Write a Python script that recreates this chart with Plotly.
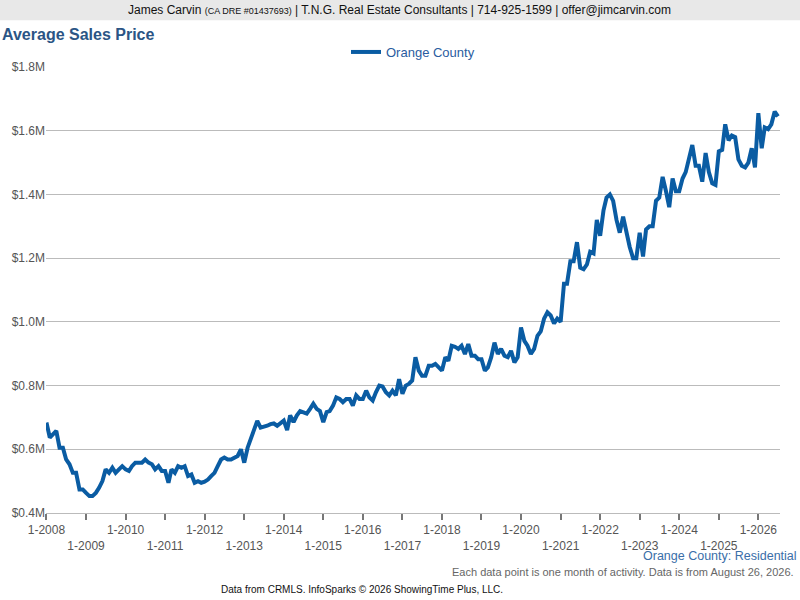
import plotly.graph_objects as go
import pandas as pd

values = [
 # 2008
 0.684,0.637,0.647,0.658,0.605,0.605,0.568,0.553,0.526,0.526,0.474,0.474,
 # 2009
 0.463,0.453,0.453,0.463,0.479,0.50,0.537,0.526,0.542,0.526,0.537,0.547,
 # 2010
 0.537,0.532,0.547,0.558,0.558,0.558,0.568,0.558,0.553,0.537,0.547,0.532,
 # 2011
 0.532,0.495,0.537,0.526,0.547,0.542,0.547,0.516,0.521,0.495,0.50,0.495,
 # 2012
 0.498,0.505,0.516,0.526,0.547,0.568,0.574,0.568,0.568,0.574,0.579,0.60,
 # 2013
 0.558,0.605,0.632,0.663,0.689,0.668,0.67,0.674,0.679,0.681,0.674,0.684,
 # 2014
 0.69,0.66,0.706,0.685,0.706,0.72,0.717,0.712,0.727,0.743,0.727,0.72,
 # 2015
 0.685,0.717,0.72,0.737,0.763,0.758,0.748,0.758,0.758,0.737,0.769,0.758,
 # 2016
 0.758,0.784,0.763,0.753,0.779,0.80,0.797,0.779,0.769,0.784,0.769,0.82,
 # 2017
 0.774,0.80,0.805,0.816,0.889,0.847,0.831,0.831,0.862,0.862,0.868,0.857,
 # 2018
 0.847,0.889,0.878,0.925,0.922,0.915,0.925,0.899,0.93,0.894,0.894,0.883,
 # 2019
 0.883,0.847,0.857,0.889,0.935,0.899,0.915,0.894,0.889,0.909,0.873,0.889,
 # 2020
 0.982,0.94,0.925,0.899,0.915,0.956,0.97,1.01,1.03,1.02,0.995,1.01,
 # 2021
 1.00,1.12,1.12,1.19,1.19,1.25,1.17,1.165,1.18,1.22,1.215,1.32,
 # 2022
 1.27,1.35,1.39,1.40,1.38,1.32,1.28,1.33,1.28,1.235,1.20,1.20,
 # 2023
 1.28,1.205,1.29,1.30,1.30,1.38,1.39,1.455,1.41,1.36,1.45,1.41,
 # 2024
 1.41,1.45,1.47,1.52,1.555,1.49,1.49,1.44,1.53,1.47,1.435,1.43,
 # 2025
 1.535,1.54,1.62,1.57,1.585,1.58,1.51,1.49,1.485,1.50,1.545,1.485,
 # 2026
 1.655,1.545,1.61,1.605,1.62,1.66,1.645,
]
dates = pd.date_range("2008-01-01", periods=len(values), freq="MS")
series_name = "Orange County"
years = list(range(2008, 2027))
tick_vals = [f"{y}-01-01" for y in years]
tick_text = [f"1-{y}" if (y - 2008) % 2 == 0 else f"<br>1-{y}" for y in years]
y_ticks = [0.4, 0.6, 0.8, 1.0, 1.2, 1.4, 1.6, 1.8]
y_text = [f"${v:.1f}M" for v in y_ticks]

fig = go.Figure()
fig.add_trace(go.Scatter(x=dates, y=values, mode="lines", name=series_name,
                         line=dict(color="#0a5ca3", width=4)))
fig.update_layout(
    width=800, height=600, plot_bgcolor="white", paper_bgcolor="white",
    margin=dict(l=46, r=20, t=67, b=87),
    font=dict(family="Liberation Sans, Arial", color="#555", size=12),
    showlegend=True,
    legend=dict(orientation="h", x=0.5, xanchor="center", y=1.0, yanchor="bottom",
                font=dict(size=13, color="#2a5ca0")),
    xaxis=dict(range=["2007-12-28", "2026-07-20"], tickvals=tick_vals, ticktext=tick_text,
               showgrid=False, ticks="outside", ticklen=6, tickcolor="#777", tickwidth=2,
               showline=True, linecolor="#bbb", tickfont=dict(size=12, color="#555"),
               tickangle=0, automargin=False),
    yaxis=dict(range=[0.4, 1.8], tickvals=y_ticks, ticktext=y_text, showgrid=True,
               gridcolor="#bbb", zeroline=False, tickfont=dict(size=12, color="#555"),
               ticks="", automargin=False),
    shapes=[dict(type="rect", xref="paper", yref="paper", x0=-0.07, x1=1.05, y0=1.105, y1=1.16,
                 fillcolor="#e8e8e8", line=dict(width=0), layer="below")],
    annotations=[
        dict(text="James Carvin <span style='font-size:9px'>(CA DRE #01437693)</span> | T.N.G. Real Estate Consultants | 714-925-1599 | offer@jimcarvin.com",
             xref="paper", yref="paper", x=0.482, y=1.128, xanchor="center", yanchor="middle",
             showarrow=False, font=dict(size=12, color="#111")),
        dict(text="<b>Average Sales Price</b>", xref="paper", yref="paper", x=-0.063, y=1.073,
             xanchor="left", yanchor="middle", showarrow=False, font=dict(size=16, color="#2b5585")),
        dict(text="Orange County: Residential", xref="paper", yref="paper", x=1.026, y=-0.096,
             xanchor="right", yanchor="middle", showarrow=False, font=dict(size=12.5, color="#3a6ea8")),
        dict(text="Each data point is one month of activity. Data is from August 26, 2026.",
             xref="paper", yref="paper", x=1.022, y=-0.132, xanchor="right", yanchor="middle",
             showarrow=False, font=dict(size=11, color="#666")),
        dict(text="Data from CRMLS. InfoSparks © 2026 ShowingTime Plus, LLC.",
             xref="paper", yref="paper", x=0.43, y=-0.172, xanchor="center", yanchor="middle",
             showarrow=False, font=dict(size=10, color="#111")),
    ],
)
fig.write_html("out.html", config={"displayModeBar": False},
               post_script="document.body.style.margin='0';")
